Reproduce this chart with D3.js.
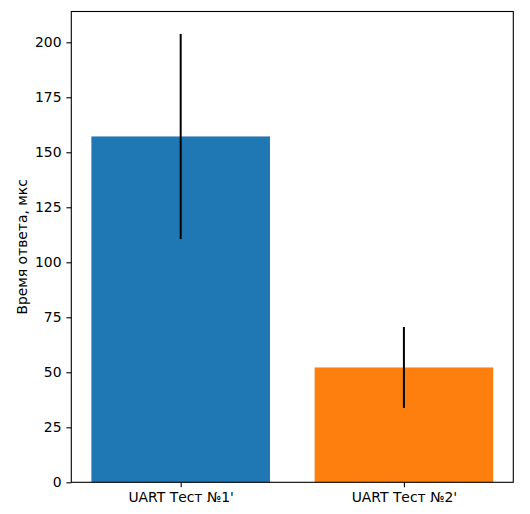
<!DOCTYPE html>
<html><head><meta charset="utf-8">
<script src="https://cdn.jsdelivr.net/npm/d3@7"></script>
<style>
html,body{margin:0;padding:0;background:#fff;}
text{font-family:"DejaVu Sans",sans-serif;}
</style></head>
<body>
<svg id="c" width="530" height="514"></svg>
<script>
const categories = ["UART Тест №1'", "UART Тест №2'"];
const values = [157.2, 52.2];
const errors = [46.6, 18.4];
const colors = ["#1f77b4", "#ff7f0e"];
const yTicks = [0, 25, 50, 75, 100, 125, 150, 175, 200];
const yLabel = "Время ответа, мкс";

const svg = d3.select("#c");
const L = 71.3, R = 513.3, T = 11.5, B = 482.3;
const yMax = d3.max(values.map((v, i) => v + errors[i])) * 1.05;
const y = d3.scaleLinear().domain([0, yMax]).range([B, T]);
const x = d3.scaleLinear().domain([-0.49, 1.49]).range([L, R]);
const bw = 0.8;

svg.append("g").selectAll("rect").data(values).join("rect")
  .attr("x", (d, i) => x(i - bw / 2))
  .attr("width", (d, i) => x(i + bw / 2) - x(i - bw / 2))
  .attr("y", d => y(d))
  .attr("height", d => y(0) - y(d))
  .attr("fill", (d, i) => colors[i]);

svg.append("g").selectAll("line").data(values).join("line")
  .attr("x1", (d, i) => x(i)).attr("x2", (d, i) => x(i))
  .attr("y1", (d, i) => y(d + errors[i]))
  .attr("y2", (d, i) => y(d - errors[i]))
  .attr("stroke", "#000").attr("stroke-width", 2);

const yAxis = d3.axisLeft(y).tickValues(yTicks).tickSize(4.9).tickPadding(4.9).tickFormat(d3.format("d"));
const gy = svg.append("g").attr("transform", `translate(${L},0)`).call(yAxis);
gy.select(".domain").remove();
gy.selectAll("line").attr("stroke", "#000").attr("stroke-width", 1.1);
gy.selectAll("text").attr("font-size", "13.9px").attr("fill", "#000")
  .attr("font-family", "DejaVu Sans");

const xAxis = d3.axisBottom(x).tickValues([0, 1]).tickSize(4.9).tickPadding(4.9)
  .tickFormat((d) => categories[d]);
const gx = svg.append("g").attr("transform", `translate(0,${B})`).call(xAxis);
gx.select(".domain").remove();
gx.selectAll("line").attr("stroke", "#000").attr("stroke-width", 1.1);
gx.selectAll("text").attr("font-size", "13.9px").attr("fill", "#000")
  .attr("font-family", "DejaVu Sans");

svg.append("rect").attr("x", L).attr("y", T).attr("width", R - L).attr("height", B - T)
  .attr("fill", "none").attr("stroke", "#000").attr("stroke-width", 1.1);

svg.append("text").attr("transform", `translate(27,${(T + B) / 2}) rotate(-90)`)
  .attr("text-anchor", "middle").attr("font-size", "13.9px").attr("fill", "#000")
  .text(yLabel);
</script>
</body></html>
